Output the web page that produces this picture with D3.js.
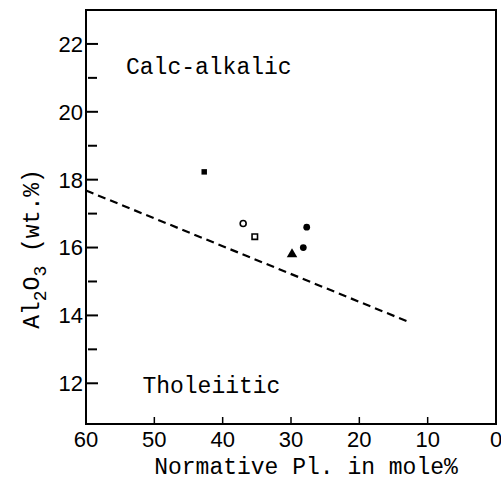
<!DOCTYPE html>
<html>
<head>
<meta charset="utf-8">
<script src="https://cdn.jsdelivr.net/npm/d3@7"></script>
<style>
  html, body { margin: 0; padding: 0; background: #fff; }
  svg { display: block; }
  .mono { font-family: "Liberation Mono", "Courier New", monospace; }
  .num { font-family: "Liberation Sans", Arial, sans-serif; }
</style>
</head>
<body>
<div id="chart"></div>
<script>
// Axis ticks
const xTicks = [60, 50, 40, 30, 20, 10, 0];
const yTicks = [12, 14, 16, 18, 20, 22];
const yMinorTicks = [13, 15, 17, 19, 21];

// Samples: normative plagioclase (mole%) vs Al2O3 (wt.%)
const sampleX = [42.7, 37.0, 35.3, 27.7, 28.2, 29.85];
const sampleY = [18.23, 16.71, 16.32, 16.6, 16.0, 15.8];
const sampleSymbol = ["filledSquare", "openCircle", "openSquare", "filledCircle", "filledCircle", "filledTriangle"];

// Dashed boundary between the two series
const boundaryX = [60, 12.8];
const boundaryY = [17.68, 13.81];

// Field labels
const fieldLabels = ["Calc-alkalic", "Tholeiitic"];
const fieldX = [54.15, 51.75];
const fieldY = [21.1, 11.7];

const width = 501;
const height = 480;
const margin = { top: 10, right: 5, bottom: 56, left: 86 };

const svg = d3.select("#chart")
  .append("svg")
  .attr("width", width)
  .attr("height", height)
  .attr("viewBox", [0, 0, width, height]);

const x = d3.scaleLinear().domain([60, 0]).range([margin.left, width - margin.right]);
const y = d3.scaleLinear().domain([10.8, 23]).range([height - margin.bottom, margin.top]);

// Frame
svg.append("rect")
  .attr("x", x(60))
  .attr("y", y(23))
  .attr("width", x(0) - x(60))
  .attr("height", y(10.8) - y(23))
  .attr("fill", "none")
  .attr("stroke", "#000")
  .attr("stroke-width", 2);

// Y ticks (inward)
svg.append("g")
  .selectAll("line")
  .data(yTicks)
  .join("line")
  .attr("x1", x(60))
  .attr("x2", x(60) + 12)
  .attr("y1", d => y(d))
  .attr("y2", d => y(d))
  .attr("stroke", "#000")
  .attr("stroke-width", 2);

svg.append("g")
  .selectAll("line")
  .data(yMinorTicks)
  .join("line")
  .attr("x1", x(60) + 2)
  .attr("x2", x(60) + 11)
  .attr("y1", d => y(d))
  .attr("y2", d => y(d))
  .attr("stroke", "#000")
  .attr("stroke-width", 2);

svg.append("g")
  .selectAll("text")
  .data(yTicks)
  .join("text")
  .attr("class", "num")
  .attr("x", x(60) - 3)
  .attr("y", d => y(d))
  .attr("dy", "0.36em")
  .attr("text-anchor", "end")
  .attr("font-size", 22)
  .text(d => d);

// X ticks (inward)
svg.append("g")
  .selectAll("line")
  .data(xTicks.filter(d => d !== 60 && d !== 0))
  .join("line")
  .attr("x1", d => x(d))
  .attr("x2", d => x(d))
  .attr("y1", y(10.8))
  .attr("y2", y(10.8) - 7)
  .attr("stroke", "#000")
  .attr("stroke-width", 1.5);

svg.append("g")
  .selectAll("text")
  .data(xTicks)
  .join("text")
  .attr("class", "num")
  .attr("x", d => x(d))
  .attr("y", 447)
  .attr("text-anchor", "middle")
  .attr("font-size", 22)
  .text(d => d);

// Axis titles
svg.append("text")
  .attr("class", "mono")
  .attr("x", 306)
  .attr("y", 474)
  .attr("text-anchor", "middle")
  .attr("font-size", 23)
  .text("Normative Pl. in mole%");

const yTitle = svg.append("text")
  .attr("class", "mono")
  .attr("transform", "translate(39,249) rotate(-90)")
  .attr("text-anchor", "middle")
  .attr("font-size", 23);
yTitle.append("tspan").text("Al");
yTitle.append("tspan").attr("font-size", 18).attr("dy", 7).text("2");
yTitle.append("tspan").attr("dy", -7).text("O");
yTitle.append("tspan").attr("font-size", 18).attr("dy", 7).text("3");
yTitle.append("tspan").attr("dy", -7).text(" (wt.%)");

// Field labels
svg.append("g")
  .selectAll("text")
  .data(fieldLabels)
  .join("text")
  .attr("class", "mono")
  .attr("x", (d, i) => x(fieldX[i]))
  .attr("y", (d, i) => y(fieldY[i]))
  .attr("font-size", 23)
  .text(d => d);

// Boundary line
svg.append("path")
  .datum(d3.zip(boundaryX, boundaryY))
  .attr("d", d3.line().x(d => x(d[0])).y(d => y(d[1])))
  .attr("fill", "none")
  .attr("stroke", "#000")
  .attr("stroke-width", 2.2)
  .attr("stroke-dasharray", "8,5");

// Samples
const symbolStyle = {
  filledSquare: { type: d3.symbolSquare, size: 30, fill: "#000", stroke: "none" },
  openCircle: { type: d3.symbolCircle, size: 28, fill: "#fff", stroke: "#000" },
  openSquare: { type: d3.symbolSquare, size: 30, fill: "#fff", stroke: "#000" },
  filledCircle: { type: d3.symbolCircle, size: 36, fill: "#000", stroke: "none" },
  filledTriangle: { type: d3.symbolTriangle, size: 48, fill: "#000", stroke: "none" }
};

svg.append("g")
  .selectAll("path")
  .data(d3.range(sampleX.length))
  .join("path")
  .attr("transform", i => `translate(${x(sampleX[i])},${y(sampleY[i])})`)
  .attr("d", i => d3.symbol(symbolStyle[sampleSymbol[i]].type, symbolStyle[sampleSymbol[i]].size)())
  .attr("fill", i => symbolStyle[sampleSymbol[i]].fill)
  .attr("stroke", i => symbolStyle[sampleSymbol[i]].stroke)
  .attr("stroke-width", 1.6);
</script>
</body>
</html>
